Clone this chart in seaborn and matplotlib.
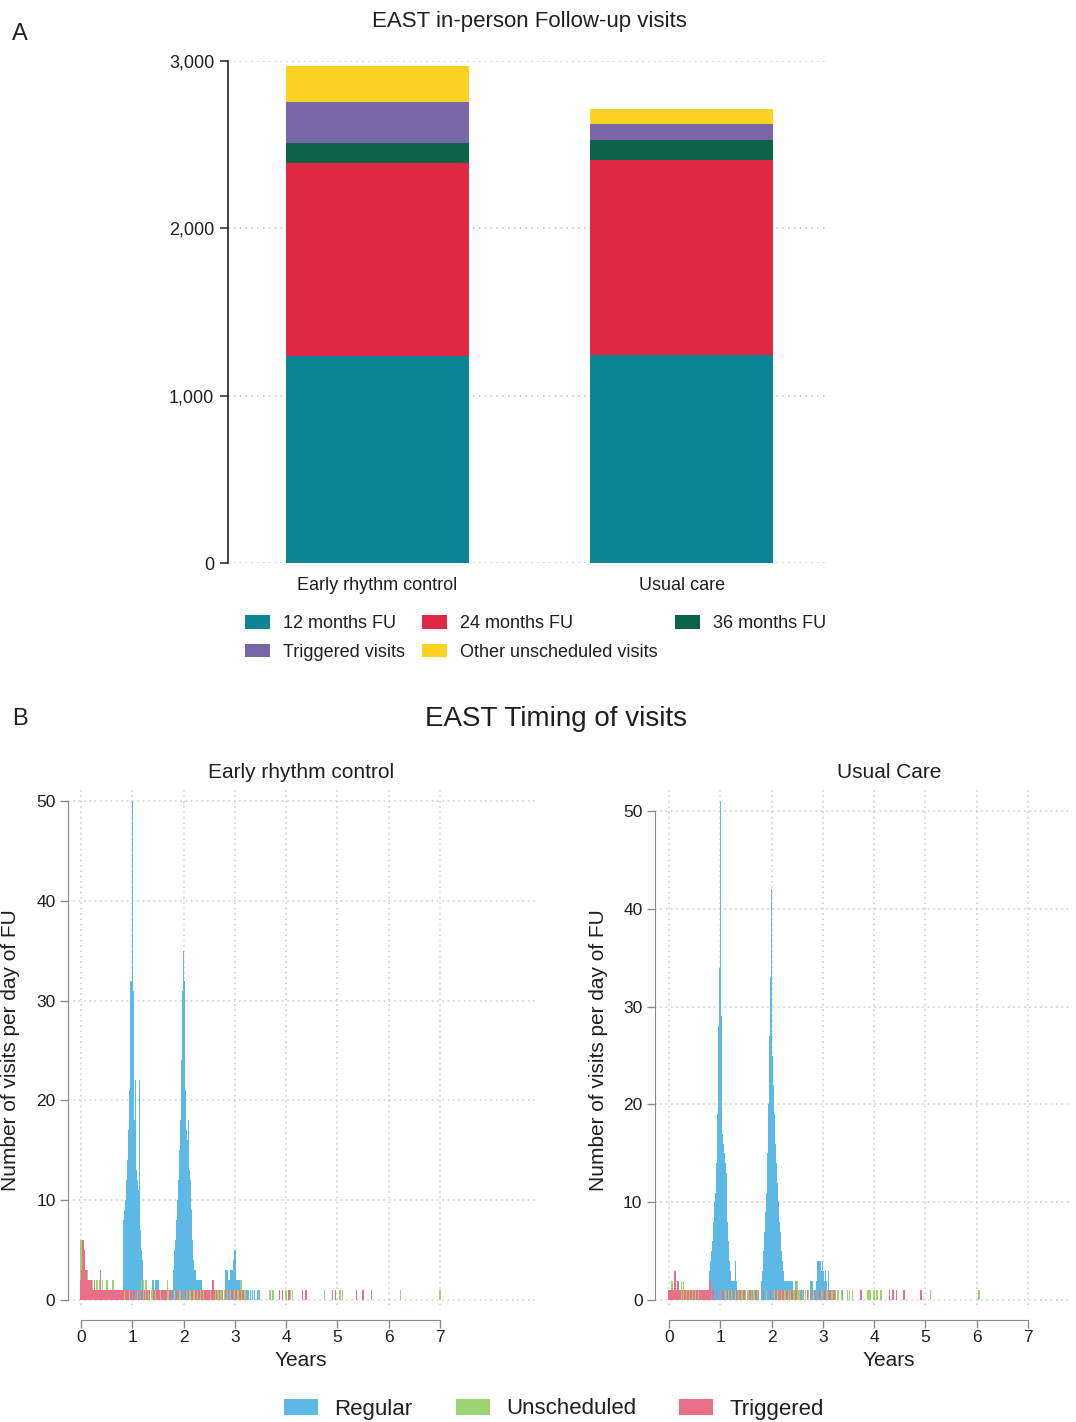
import numpy as np
import pandas as pd
import matplotlib
matplotlib.use("Agg")
import matplotlib.pyplot as plt
from matplotlib.patches import Patch
import seaborn as sns

# ---------------- Panel A data ----------------
groups = ["Early rhythm control", "Usual care"]
components = ["12 months FU", "24 months FU", "36 months FU",
              "Triggered visits", "Other unscheduled visits"]
fu12 = [1235, 1244]
fu24 = [1155, 1167]
fu36 = [118, 119]
triggered_visits = [246, 95]
other_unscheduled = [217, 86]
comp_colors = ["#0B8493", "#E02844", "#0B6449", "#7766A8", "#FBD222"]

# ---------------- Panel B data (years, visits per day) ----------------
erc_regular = [
    (0.84, 8), (0.85, 9), (0.86, 8), (0.87, 9), (0.88, 10), (0.89, 11), (0.90, 12),
    (0.91, 13), (0.92, 14), (0.93, 15), (0.94, 17), (0.95, 18), (0.96, 21), (0.97, 25),
    (0.98, 32), (0.99, 30), (1.00, 50), (1.01, 31), (1.02, 24), (1.03, 17), (1.04, 18),
    (1.05, 15), (1.06, 22), (1.07, 13), (1.08, 12), (1.09, 12), (1.10, 10), (1.11, 11),
    (1.12, 9), (1.13, 8), (1.14, 22), (1.15, 7), (1.16, 6), (1.17, 5), (1.18, 5),
    (1.19, 4), (1.20, 3), (1.21, 2), (1.22, 1),
    (1.26, 1), (1.30, 1), (1.40, 2), (1.46, 2), (1.50, 2), (1.55, 1), (1.60, 1),
    (1.65, 1), (1.72, 1), (1.76, 1),
    (1.80, 2), (1.81, 3), (1.82, 4), (1.83, 5), (1.84, 5), (1.85, 6), (1.86, 7),
    (1.87, 8), (1.88, 9), (1.89, 10), (1.90, 11), (1.91, 12), (1.92, 13), (1.93, 15),
    (1.94, 16), (1.95, 18), (1.96, 21), (1.97, 24), (1.98, 27), (1.99, 31), (2.00, 35),
    (2.01, 32), (2.02, 26), (2.03, 21), (2.04, 18), (2.05, 16), (2.06, 17), (2.07, 15),
    (2.08, 14), (2.09, 16), (2.10, 18), (2.11, 13), (2.12, 12), (2.13, 10), (2.14, 9),
    (2.15, 7), (2.16, 6), (2.17, 5), (2.18, 4), (2.19, 4), (2.20, 3), (2.22, 3),
    (2.24, 2), (2.26, 2), (2.28, 2), (2.30, 2), (2.32, 1), (2.34, 2), (2.36, 1),
    (2.40, 1), (2.48, 1), (2.58, 1), (2.66, 1), (2.74, 1),
    (2.80, 1), (2.83, 3), (2.85, 2), (2.86, 3), (2.88, 2), (2.90, 2), (2.92, 3),
    (2.94, 3), (2.96, 2), (2.98, 4), (3.00, 5), (3.01, 3), (3.03, 2), (3.05, 2),
    (3.07, 2), (3.09, 2), (3.11, 1), (3.14, 1), (3.18, 1), (3.22, 1), (3.26, 1),
    (3.30, 1), (3.34, 1), (3.38, 1), (3.44, 1), (3.48, 1),
]
erc_unscheduled = [
    (0.00, 6), (0.06, 3), (0.10, 3), (0.13, 3), (0.16, 2), (0.21, 2), (0.26, 2),
    (0.31, 2), (0.36, 2), (0.42, 2), (0.47, 1), (0.51, 2), (0.56, 1), (0.62, 2),
    (0.70, 1), (0.77, 1), (0.86, 1), (0.95, 1), (1.10, 1), (1.18, 2), (1.22, 2),
    (1.27, 2), (1.33, 1), (1.38, 1), (1.44, 1), (1.50, 1), (1.56, 1), (1.64, 1),
    (1.69, 2), (1.71, 1), (1.82, 1), (1.93, 1), (2.06, 1), (2.13, 1), (2.20, 1),
    (2.27, 1), (2.33, 1), (2.39, 1), (2.44, 1), (2.52, 1), (2.62, 1), (2.67, 1),
    (2.73, 1), (2.80, 1), (2.86, 1), (2.92, 1), (2.99, 1), (3.06, 1), (3.12, 2),
    (3.20, 1), (3.46, 1), (3.68, 1), (3.74, 1), (4.00, 1), (4.08, 1), (4.12, 1),
    (4.75, 1), (5.05, 1), (5.10, 1), (6.23, 1), (7.00, 1),
]
erc_triggered = [
    (0.00, 2), (0.02, 3), (0.04, 6), (0.06, 5), (0.08, 3), (0.10, 3), (0.12, 2),
    (0.14, 2), (0.16, 2), (0.18, 1), (0.20, 2), (0.22, 1), (0.24, 1), (0.26, 2),
    (0.28, 1), (0.30, 1), (0.32, 1), (0.34, 1), (0.36, 1), (0.38, 3), (0.40, 1),
    (0.42, 1), (0.44, 1), (0.46, 1), (0.48, 1), (0.50, 1), (0.52, 1), (0.54, 1),
    (0.56, 1), (0.58, 1), (0.60, 1), (0.62, 1), (0.64, 1), (0.66, 1), (0.68, 1),
    (0.70, 1), (0.72, 1), (0.74, 1), (0.76, 1), (0.78, 1), (0.80, 1), (0.82, 1),
    (0.88, 1), (0.92, 1), (0.97, 1), (1.03, 1), (1.08, 1), (1.12, 1), (1.19, 1),
    (1.24, 1), (1.29, 1), (1.34, 1), (1.42, 1), (1.48, 1), (1.52, 1), (1.58, 1),
    (1.62, 1), (1.66, 1), (1.74, 1), (1.78, 1), (1.86, 1), (1.90, 1), (1.96, 1),
    (2.04, 1), (2.10, 1), (2.16, 1), (2.24, 1), (2.30, 1), (2.36, 1), (2.42, 1),
    (2.46, 1), (2.50, 1), (2.54, 1), (2.57, 2), (2.60, 1), (2.64, 1), (2.70, 1),
    (2.76, 1), (2.82, 1), (2.88, 1), (2.94, 1), (3.02, 1), (3.10, 1), (3.16, 1),
    (3.87, 1), (3.93, 1), (4.05, 1), (4.32, 1), (4.39, 1), (4.90, 1), (4.96, 1),
    (5.37, 1), (5.50, 1), (5.66, 1),
]

uc_regular = [
    (0.80, 3), (0.81, 3), (0.82, 4), (0.83, 4), (0.84, 5), (0.85, 5), (0.86, 6),
    (0.87, 7), (0.88, 8), (0.89, 9), (0.90, 10), (0.91, 11), (0.92, 11), (0.93, 12),
    (0.94, 14), (0.95, 16), (0.96, 19), (0.97, 24), (0.98, 28), (0.99, 34), (1.00, 51),
    (1.01, 29), (1.02, 20), (1.03, 17), (1.04, 16), (1.05, 16), (1.06, 15), (1.07, 15),
    (1.08, 14), (1.09, 14), (1.10, 13), (1.11, 13), (1.12, 10), (1.13, 8), (1.14, 7),
    (1.15, 6), (1.16, 5), (1.17, 4), (1.18, 3), (1.19, 3), (1.20, 2), (1.22, 2),
    (1.24, 2), (1.26, 2), (1.28, 2), (1.30, 4), (1.32, 2), (1.34, 1),
    (1.40, 1), (1.47, 1), (1.53, 1), (1.62, 1), (1.68, 1), (1.74, 1),
    (1.80, 2), (1.82, 3), (1.84, 4), (1.85, 5), (1.86, 6), (1.87, 7), (1.88, 8),
    (1.89, 9), (1.90, 10), (1.91, 11), (1.92, 13), (1.93, 15), (1.94, 17), (1.95, 20),
    (1.96, 23), (1.97, 27), (1.98, 28), (1.99, 33), (2.00, 42), (2.01, 25), (2.02, 24),
    (2.03, 22), (2.04, 21), (2.05, 19), (2.06, 17), (2.07, 16), (2.08, 15), (2.09, 14),
    (2.10, 13), (2.11, 12), (2.12, 11), (2.13, 10), (2.14, 9), (2.15, 8), (2.16, 7),
    (2.17, 6), (2.18, 5), (2.19, 5), (2.20, 4), (2.21, 3), (2.22, 3), (2.24, 2),
    (2.26, 2), (2.28, 2), (2.30, 2), (2.33, 2), (2.36, 2), (2.40, 2), (2.44, 1),
    (2.47, 2), (2.52, 1), (2.56, 1), (2.62, 1),
    (2.70, 1), (2.77, 2), (2.79, 2), (2.84, 1), (2.88, 2), (2.90, 4), (2.92, 3),
    (2.93, 4), (2.95, 4), (2.97, 3), (2.99, 4), (3.01, 3), (3.03, 2), (3.05, 3),
    (3.07, 2), (3.09, 1), (3.11, 3), (3.13, 1), (3.16, 1), (3.20, 1), (3.25, 1),
    (3.30, 1), (3.38, 1),
]
uc_unscheduled = [
    (0.06, 2), (0.10, 1), (0.18, 1), (0.24, 2), (0.28, 2), (0.34, 1), (0.40, 1),
    (0.46, 1), (0.52, 1), (0.58, 1), (0.64, 1), (0.70, 1), (1.10, 1), (1.16, 1),
    (1.22, 1), (1.30, 1), (1.36, 1), (1.42, 1), (1.48, 1), (1.54, 1), (1.60, 1),
    (1.66, 1), (1.72, 1), (1.90, 1), (2.06, 1), (2.12, 1), (2.20, 1), (2.26, 1),
    (2.32, 1), (2.38, 1), (2.44, 1), (2.50, 2), (2.54, 1), (2.60, 1), (2.66, 1),
    (2.72, 1), (2.82, 1), (2.96, 1), (3.08, 1), (3.18, 1), (3.24, 1), (3.30, 1),
    (3.36, 1), (3.48, 1), (3.52, 1), (3.58, 1), (3.88, 1), (3.92, 1), (4.00, 1),
    (4.06, 1), (4.14, 1), (5.10, 1), (6.05, 1),
]
uc_triggered = [
    (0.00, 1), (0.02, 1), (0.04, 1), (0.06, 1), (0.08, 1), (0.10, 1), (0.12, 3),
    (0.14, 1), (0.16, 1), (0.18, 2), (0.20, 1), (0.22, 1), (0.26, 1), (0.30, 1),
    (0.32, 1), (0.36, 1), (0.38, 1), (0.42, 1), (0.44, 1), (0.48, 1), (0.50, 1),
    (0.54, 1), (0.56, 1), (0.60, 1), (0.62, 1), (0.66, 1), (0.68, 1), (0.72, 1),
    (0.74, 1), (0.76, 1), (0.80, 2), (0.86, 1), (0.93, 1), (1.05, 1), (1.14, 1),
    (1.20, 1), (1.26, 1), (1.32, 1), (1.38, 1), (1.46, 1), (1.58, 1), (1.70, 1),
    (1.84, 1), (1.98, 1), (2.09, 1), (2.16, 1), (2.22, 1), (2.30, 1), (2.40, 1),
    (2.48, 1), (2.58, 1), (2.70, 1), (2.78, 1), (2.86, 1), (2.94, 1), (3.04, 1),
    (3.14, 1), (3.22, 1), (3.74, 1), (4.30, 1), (4.37, 1), (4.44, 1), (4.58, 1),
    (4.92, 1),
]
visit_types = ["Regular", "Unscheduled", "Triggered"]
type_colors = ["#5CB8E4", "#9CD472", "#EC6F89"]
year_ticks = [0, 1, 2, 3, 4, 5, 6, 7]
count_ticks = [0, 10, 20, 30, 40, 50]

# ---------------- Style ----------------
sns.set_style("white")
plt.rcParams["font.family"] = ["Liberation Sans", "DejaVu Sans"]
TXT = "#1f1f1f"
GRID = "#c9c9c9"
AXC = "#8a8a8a"

W, H = 1076, 1422
fig = plt.figure(figsize=(W / 100, H / 100), dpi=100)


def fx(px):
    return px / W


def fy(py):
    return 1 - py / H


# ---------------- Panel A ----------------
axA = fig.add_axes([fx(228), fy(563), fx(600), 502 / H])
stack = np.cumsum(np.array([fu12, fu24, fu36, triggered_visits, other_unscheduled]), axis=0)
for i in reversed(range(len(components))):
    sns.barplot(x=groups, y=stack[i], color=comp_colors[i], saturation=1,
                width=0.6, ax=axA, linewidth=0, zorder=3)
axA.set_xlim(-0.49, 1.48)
axA.set_ylim(0, 3000)
axA.set_yticks([0, 1000, 2000, 3000])
axA.set_yticklabels([f"{v:,}" for v in [0, 1000, 2000, 3000]], fontsize=13, color=TXT)
axA.tick_params(axis="y", length=6, width=1.2, color="#333333", pad=4, left=True)
axA.tick_params(axis="x", length=0, pad=10, labelsize=13, labelcolor=TXT)
axA.yaxis.grid(True, linestyle=(0, (1, 2.5)), color=GRID, linewidth=1.2, zorder=0)
axA.xaxis.grid(False)
for s in ["top", "right", "bottom"]:
    axA.spines[s].set_visible(False)
axA.spines["left"].set_color("#333333")
axA.spines["left"].set_linewidth(1.3)
axA.set_xlabel("")
axA.set_ylabel("")

handles = [Patch(facecolor=c, edgecolor="none") for c in comp_colors]
order = [0, 3, 1, 4, 2]
fig.legend([handles[i] for i in order], [components[i] for i in order],
           loc="upper left", bbox_to_anchor=(fx(245), fy(615)), ncol=3,
           frameon=False, fontsize=13, handlelength=1.4, handleheight=0.78,
           handletextpad=0.7, columnspacing=0.95, labelspacing=0.65,
           borderpad=0, borderaxespad=0, labelcolor=TXT)

fig.text(fx(529), fy(22), "EAST in-person Follow-up visits", ha="center", va="center",
         fontsize=16, color=TXT)
fig.text(fx(20), fy(34), "A", ha="center", va="center", fontsize=17, color=TXT)

# ---------------- Panel B ----------------
fig.text(fx(20), fy(719), "B", ha="center", va="center", fontsize=17, color=TXT)
fig.text(fx(556), fy(719), "EAST Timing of visits", ha="center", va="center",
         fontsize=20, color=TXT)

panels = [
    dict(title="Early rhythm control", data=[erc_regular, erc_unscheduled, erc_triggered],
         rect=[fx(68), fy(1305), fx(467), 515 / H], xlim=(-0.253, 8.85), ylim=(-0.5, 51.1),
         cx=301, ylab_x=11),
    dict(title="Usual Care", data=[uc_regular, uc_unscheduled, uc_triggered],
         rect=[fx(655), fy(1305), fx(417), 515 / H], xlim=(-0.273, 7.86), ylim=(-0.5, 52.15),
         cx=889, ylab_x=599),
]
for p in panels:
    ax = fig.add_axes(p["rect"])
    for series, col in zip(p["data"], type_colors):
        yrs = [a for a, b in series]
        cnt = [b for a, b in series]
        ax.bar(yrs, cnt, width=0.03, color=col, linewidth=0, align="center", zorder=3)
    ax.set_xlim(*p["xlim"])
    ax.set_ylim(*p["ylim"])
    ax.set_xticks(year_ticks)
    ax.set_yticks(count_ticks)
    ax.tick_params(axis="both", labelsize=12.5, labelcolor=TXT, color=AXC,
                   length=6, width=1, pad=3, left=True, bottom=True)
    ax.tick_params(axis="x", pad=1)
    ax.grid(True, linestyle=(0, (1, 2.5)), color=GRID, linewidth=1.1, zorder=0)
    ax.spines["top"].set_visible(False)
    ax.spines["right"].set_visible(False)
    ax.spines["left"].set_bounds(0, 50)
    ax.spines["left"].set_color(AXC)
    ax.spines["bottom"].set_bounds(0, 7)
    ax.spines["bottom"].set_color(AXC)
    ax.spines["bottom"].set_position(("outward", 11))
    fig.text(fx(p["cx"]), fy(773), p["title"], ha="center", va="center",
             fontsize=15, color=TXT)
    fig.text(fx(p["cx"]), fy(1361), "Years", ha="center", va="center",
             fontsize=15, color=TXT)
    fig.text(fx(p["ylab_x"]), fy(1050), "Number of visits per day of FU", ha="center",
             va="center", rotation=90, fontsize=15, color=TXT)

leg_handles = [Patch(facecolor=c, edgecolor="none") for c in type_colors]
fig.legend(leg_handles, visit_types, loc="center", bbox_to_anchor=(fx(554), fy(1409)),
           ncol=3, frameon=False, fontsize=16, handlelength=1.53, handleheight=0.72,
           handletextpad=0.72, columnspacing=1.95, borderpad=0, borderaxespad=0,
           labelcolor=TXT)

fig.savefig("out.png", dpi=100, facecolor="white")
